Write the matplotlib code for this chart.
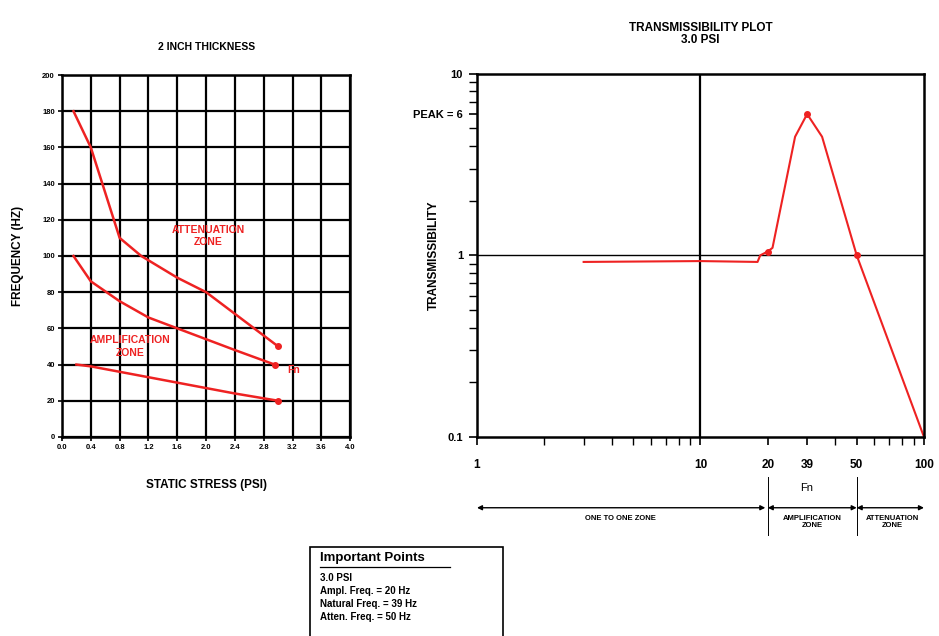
import matplotlib
matplotlib.use("Agg")
import matplotlib.pyplot as plt
from matplotlib.ticker import FixedLocator, NullFormatter, LogLocator

plt.rcParams['font.family'] = ['Liberation Sans', 'DejaVu Sans']
plt.rcParams['font.weight'] = 'bold'
plt.rcParams['axes.titleweight'] = 'bold'
plt.rcParams['axes.labelweight'] = 'bold'

# --- left chart data: static stress (psi) vs frequency (Hz) ---
atten_x = [0.16, 0.4, 0.8, 1.1, 1.6, 2.0, 2.5, 3.0]
atten_y = [180, 160, 110, 100, 88, 80, 65, 50]
fn_x = [0.16, 0.4, 0.8, 1.2, 1.6, 2.0, 2.4, 2.95]
fn_y = [100, 86, 75, 66, 60, 54, 48, 40]
ampl_x = [0.2, 0.4, 0.8, 1.2, 1.6, 2.0, 2.4, 3.0]
ampl_y = [40, 39, 36, 33, 30, 27, 24, 20]
end_x = [3.0, 2.95, 3.0]
end_y = [50, 40, 20]

stress_ticks = [0.0, 0.4, 0.8, 1.2, 1.6, 2.0, 2.4, 2.8, 3.2, 3.6, 4.0]
freq_ticks = [0, 20, 40, 60, 80, 100, 120, 140, 160, 180, 200]

# --- right chart data: transmissibility vs frequency ---
trans_f = [3, 10, 18, 18.5, 20, 21, 26.5, 30, 35, 50, 100]
trans_t = [0.92, 0.93, 0.92, 1.0, 1.05, 1.1, 4.5, 6.0, 4.5, 1.0, 0.1]
key_f = [20, 30, 50]
key_t = [1.05, 6.0, 1.0]
f_ticks = [1, 10, 20, 30, 50, 100]
f_labels = ['1', '10', '20', '39', '50', '100']

RED = '#ee2222'

fig = plt.figure(figsize=(9.39, 6.36), dpi=100)

# ---------------- left chart ----------------
ax1 = fig.add_axes([0.066, 0.313, 0.307, 0.569])
ax1.set_xlim(0, 4.0)
ax1.set_ylim(0, 200)
ax1.set_xticks(stress_ticks)
ax1.set_xticklabels([f"{v:.1f}" for v in stress_ticks], fontsize=5.5)
ax1.set_yticks(freq_ticks)
ax1.set_yticklabels([str(v) for v in freq_ticks], fontsize=5.5)
ax1.grid(True, color='black', linewidth=1.6)
for s in ax1.spines.values():
    s.set_linewidth(1.8)
ax1.tick_params(length=3, width=1.2, pad=2)

ax1.plot(atten_x, atten_y, color=RED, lw=1.8)
ax1.plot(fn_x, fn_y, color=RED, lw=1.8)
ax1.plot(ampl_x, ampl_y, color=RED, lw=1.8)
ax1.plot(end_x, end_y, 'o', color=RED, ms=4)

ax1.text(2.03, 111, 'ATTENUATION\nZONE', color=RED, fontsize=7.5,
         ha='center', va='center', linespacing=1.35)
ax1.text(0.95, 50, 'AMPLIFICATION\nZONE', color=RED, fontsize=7.5,
         ha='center', va='center', linespacing=1.35)
ax1.text(3.22, 37, 'Fn', color=RED, fontsize=7.5, ha='center', va='center')

ax1.set_title('2 INCH THICKNESS', fontsize=7.5, pad=18)
ax1.set_xlabel('STATIC STRESS (PSI)', fontsize=8.5, labelpad=20)
ax1.set_ylabel('FREQUENCY (HZ)', fontsize=8.5)
ax1.yaxis.set_label_coords(-0.13, 0.5)

# ---------------- right chart ----------------
ax2 = fig.add_axes([0.508, 0.313, 0.476, 0.571])
ax2.set_xscale('log')
ax2.set_yscale('log')
ax2.set_xlim(1, 100)
ax2.set_ylim(0.1, 10)
ax2.xaxis.set_major_locator(FixedLocator(f_ticks))
ax2.set_xticklabels(f_labels, fontsize=8.5)
ax2.xaxis.set_minor_locator(LogLocator(base=10, subs=range(2, 10)))
ax2.xaxis.set_minor_formatter(NullFormatter())
ax2.yaxis.set_major_locator(FixedLocator([0.1, 1, 6, 10]))
ax2.set_yticklabels(['0.1', '1', 'PEAK = 6', '10'], fontsize=8)
ax2.yaxis.set_minor_locator(LogLocator(base=10, subs=range(2, 10)))
ax2.yaxis.set_minor_formatter(NullFormatter())
ax2.tick_params(which='major', length=6, width=1.2, pad=10)
ax2.tick_params(axis='y', which='major', pad=4)
ax2.tick_params(which='minor', length=6, width=1.0)
for s in ax2.spines.values():
    s.set_linewidth(1.8)
ax2.axvline(10, color='black', lw=1.6)
ax2.axhline(1, color='black', lw=1.0)

ax2.plot(trans_f, trans_t, color=RED, lw=1.5)
ax2.plot(key_f, key_t, 'o', color=RED, ms=4)

ax2.set_title('TRANSMISSIBILITY PLOT\n3.0 PSI', fontsize=8.5, pad=22,
              linespacing=1.0)
ax2.set_ylabel('TRANSMISSIBILITY', fontsize=8.5)
ax2.yaxis.set_label_coords(-0.082, 0.5)

# zone annotations below the frequency axis
ax2.text(30, -0.14, 'Fn', transform=ax2.get_xaxis_transform(), fontsize=8,
         fontweight='normal', ha='center', va='center')
for fx in [20, 50]:
    ax2.plot([fx, fx], [-0.11, -0.27], color='black', lw=0.7,
             transform=ax2.get_xaxis_transform(), clip_on=False)
zones = [(1, 19.5, 'ONE TO ONE ZONE', 4.4), (20, 50, 'AMPLIFICATION\nZONE', 31.6),
         (50, 100, 'ATTENUATION\nZONE', 72)]
for x0, x1, label, xc in zones:
    ax2.annotate('', xy=(x0, -0.195), xytext=(x1, -0.195),
                 xycoords=ax2.get_xaxis_transform(),
                 arrowprops=dict(arrowstyle='<|-|>', color='black', lw=1.0,
                                 mutation_scale=7, shrinkA=0, shrinkB=0),
                 annotation_clip=False)
    ax2.text(xc, -0.215, label, transform=ax2.get_xaxis_transform(),
             fontsize=5.5, ha='center', va='top', linespacing=0.9)

# ---------------- important points box ----------------
fig.patches.append(plt.Rectangle((0.330, -0.05), 0.206, 0.19, transform=fig.transFigure,
                                 fill=False, edgecolor='black', lw=1.2))
fig.text(0.341, 0.122, 'Important Points', fontsize=9.5, va='center')
fig.add_artist(plt.Line2D([0.341, 0.479], [0.109, 0.109], color='black', lw=0.9))
points = ['3.0 PSI', 'Ampl. Freq. = 20 Hz', 'Natural Freq. = 39 Hz',
          'Atten. Freq. = 50 Hz']
for i, line in enumerate(points):
    fig.text(0.341, 0.091 - i * 0.0205, line, fontsize=7, va='center')

fig.savefig('out.png', dpi=100)
